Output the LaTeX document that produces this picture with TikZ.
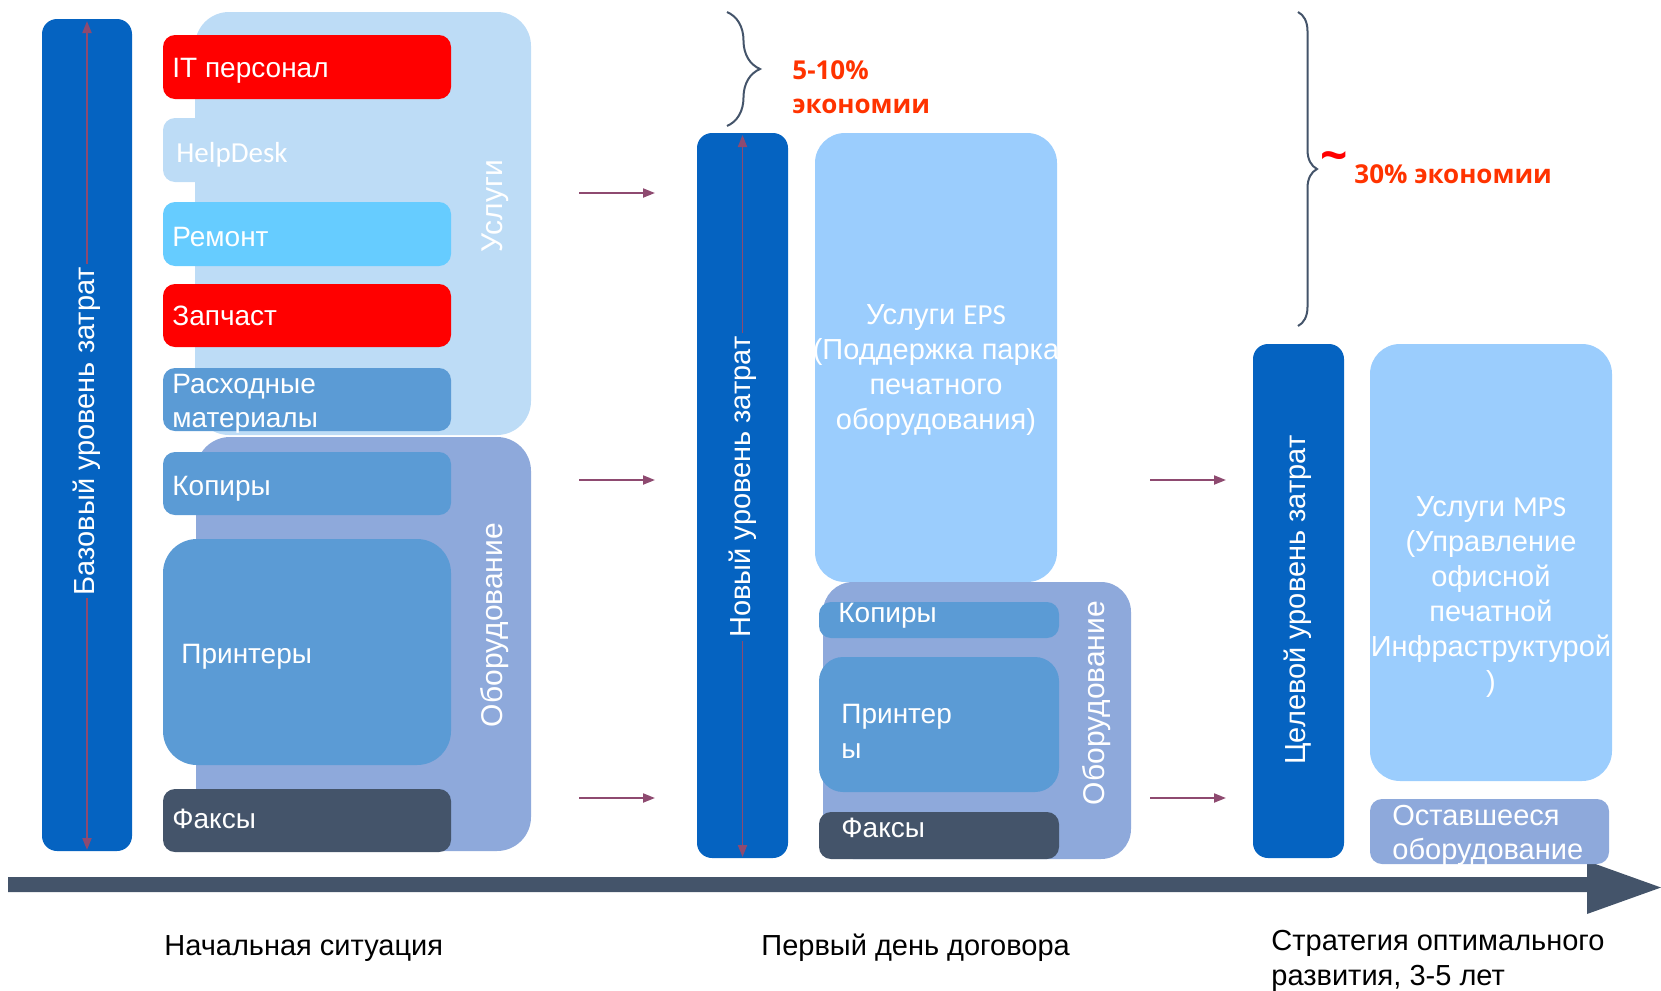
\documentclass[tikz,border=0pt]{standalone}
\usepackage{fontspec}
\setmainfont{Liberation Sans}
\newfontfamily\calib{Carlito}
\newfontfamily\osans{Open Sans}
\usetikzlibrary{fit,decorations.pathreplacing,arrows.meta}
\definecolor{barblue}{HTML}{0563C1}
\definecolor{servbg}{HTML}{BDDCF6}
\definecolor{equipbg}{HTML}{8EA9DB}
\definecolor{midblue}{HTML}{5B9BD5}
\definecolor{cyanbox}{HTML}{66CCFF}
\definecolor{slate}{HTML}{44546A}
\definecolor{epsbg}{HTML}{9BCDFD}
\definecolor{arrowc}{HTML}{8E4A70}
\definecolor{savec}{HTML}{FF3300}
\begin{document}
\begin{tikzpicture}[x=0.5pt,y=-0.5pt,
  blk/.style={inner sep=0pt, outer sep=0pt, draw=none, rounded corners=#1},
  blk/.default=6pt,
  wt/.style={text=white, inner sep=0pt, anchor=base west, font=\fontsize{14}{16}\selectfont},
  big/.style={text=white, inner sep=0pt, align=center, font=\fontsize{14.5}{17.5}\selectfont},
  vert/.style={text=white, rotate=90, inner sep=0pt, font=\fontsize{15}{18}\selectfont},
  barlbl/.style={text=white, rotate=90, fill=barblue, inner ysep=0pt, inner xsep=1.5pt, font=\fontsize{14.5}{18}\selectfont},
  flow/.style={draw=arrowc, line width=1pt, -{Triangle[length=6pt,width=4.5pt]}},
  dbl/.style={draw=arrowc, line width=0.9pt, {Triangle[length=6pt,width=4.5pt]}-{Triangle[length=6pt,width=4.5pt]}},
  save/.style={text=savec, inner sep=0pt, anchor=base west, font=\osans\bfseries\fontsize{13}{17}\selectfont},
  brc/.style={draw=slate, line width=1pt, decorate, decoration={brace, amplitude=#1}},
  bottom/.style={text=black, inner sep=0pt, anchor=base west, font=\fontsize{14.5}{17.5}\selectfont},
]
\useasboundingbox (0,0) rectangle (1661,991);

% ---------- axis ----------
\fill[slate] (8,877) -- (1587,877) -- (1587,861) -- (1661,887.5) -- (1587,914) -- (1587,892) -- (8,892) -- cycle;

% ---------- column 1 ----------
\node[blk=17pt, fill=servbg, fit={(195,12)(531,435)}] (serv) {};
\node[blk=17pt, fill=equipbg, fit={(196,437)(531,851)}] (equip) {};
\node[blk=7.5pt, fill=barblue, fit={(42,19)(132,851)}] (barL) {};
\draw[dbl] ([yshift=-1pt]barL.north) -- ([yshift=0.5pt]barL.south);
\node[barlbl] (lblL) at (87,431) {Базовый уровень затрат};

\node[blk, fill=red, fit={(163,35)(451,99)}] (it) {};
\node[wt] (itT) at (172,77) {IT персонал};
\node[blk, fill=servbg, fit={(163,118)(451,182)}] (hd) {};
\node[wt, font=\calib\fontsize{14.5}{17}\selectfont] (hdT) at (176,162) {HelpDesk};
\node[blk, fill=cyanbox, fit={(163,202)(451,266)}] (rem) {};
\node[wt] (remT) at (172,246) {Ремонт};
\node[blk, fill=red, fit={(163,284)(451,347)}] (zap) {};
\node[wt] (zapT) at (172,325) {Запчаст};
\node[blk, fill=midblue, fit={(163,368)(451,431)}] (ras) {};
\node[wt] (rasT1) at (172,393) {Расходные};
\node[wt] (rasT2) at (172,427) {материалы};
\node[vert] (servT) at (495,206) {Услуги};

\node[blk, fill=midblue, fit={(163,452)(451,515)}] (kop) {};
\node[wt] (kopT) at (172,495) {Копиры};
\node[blk=17pt, fill=midblue, fit={(163,539)(451,765)}] (pri) {};
\node[wt] (priT) at (181,663) {Принтеры};
\node[blk, fill=slate, fit={(163,789)(451,852)}] (fax) {};
\node[wt] (faxT) at (172,828) {Факсы};
\node[vert] (equipT) at (495,625) {Оборудование};

% ---------- arrows column 1 -> 2 ----------
\coordinate (a1s) at (579,193); \coordinate (a1e) at (655,193);
\coordinate (a2s) at (579,480); \coordinate (a2e) at (655,480);
\coordinate (a3s) at (579,798); \coordinate (a3e) at (655,798);
\draw[flow] (a1s) -- (a1e);
\draw[flow] (a2s) -- (a2e);
\draw[flow] (a3s) -- (a3e);

% ---------- column 2 ----------
\node[blk=7.5pt, fill=barblue, fit={(697,133)(788,858)}] (barM) {};
\draw[dbl] ([yshift=-1pt]barM.north) -- ([yshift=0.5pt]barM.south);
\node[barlbl] (lblM) at (743,487) {Новый уровень затрат};

\node[blk=15pt, fill=epsbg, fit={(815,133)(1057,582)}] (eps) {};
\node[big] (epsT) at (936,370) {Услуги {\calib EPS}\\(Поддержка парка\\печатного\\оборудования)};

\node[blk=15pt, fill=equipbg, fit={(823,582)(1131,859)}] (equipM) {};
\node[blk, fill=midblue, fit={(819,602)(1059,638)}] (kopM) {};
\node[wt] (kopMT) at (838,622) {Копиры};
\node[blk=12pt, fill=midblue, fit={(819,657)(1059,792)}] (priM) {};
\node[wt] (priMT1) at (841,723) {Принтер};
\node[wt] (priMT2) at (841,758) {ы};
\node[blk, fill=slate, fit={(819,812)(1059,859)}] (faxM) {};
\node[wt] (faxMT) at (841,837) {Факсы};
\node[vert] (equipMT) at (1097,703) {Оборудование};

\draw[brc=16.5pt] (727,12) -- (727,126);
\node[save] (s1) at (792,79) {5-10\%};
\node[save] (s2) at (792,113) {экономии};

% ---------- arrows column 2 -> 3 ----------
\coordinate (b2s) at (1150,480); \coordinate (b2e) at (1226,480);
\coordinate (b3s) at (1150,798); \coordinate (b3e) at (1226,798);
\draw[flow] (b2s) -- (b2e);
\draw[flow] (b3s) -- (b3e);

% ---------- column 3 ----------
\node[blk=7.5pt, fill=barblue, fit={(1253,344)(1344,858)}] (barR) {};
\node[barlbl] (lblR) at (1298,600) {Целевой уровень затрат};

\node[blk=15pt, fill=epsbg, fit={(1370,344)(1612,781)}] (mps) {};
\node[big] (mpsT) at (1491,597) {Услуги {\calib MPS}\\(Управление\\офисной\\печатной\\Инфраструктурой\\)};
\node[blk=6pt, fill=equipbg, fit={(1370,799)(1609,864)}] (rest) {};
\node[wt, font=\fontsize{14.5}{17}\selectfont] (restT1) at (1392,825) {Оставшееся};
\node[wt, font=\fontsize{14.5}{17}\selectfont] (restT2) at (1392,859) {оборудование};

\draw[brc=9.5pt] (1298,12) -- (1298,326);
\node[text=red, inner sep=0pt, font=\osans\bfseries\fontsize{24}{24}\selectfont] (tilde) at (1334,162) {\textasciitilde};
\node[save] (s3) at (1354,183) {30\% экономии};

% ---------- bottom labels ----------
\node[bottom] (t1) at (164,955) {Начальная ситуация};
\node[bottom] (t2) at (761,955) {Первый день договора};
\node[bottom] (t3a) at (1271,950) {Стратегия оптимального};
\node[bottom] (t3b) at (1271,985) {развития, 3-5 лет};
\end{tikzpicture}
\end{document}
